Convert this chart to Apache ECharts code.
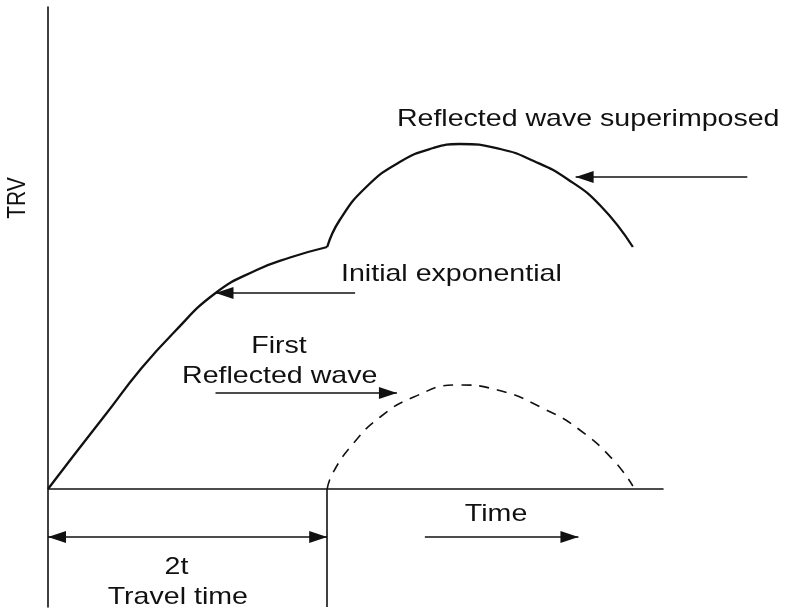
<!DOCTYPE html>
<html>
<head>
<meta charset="utf-8">
<script src="https://cdn.jsdelivr.net/npm/echarts@6/dist/echarts.min.js"></script>
<style>
  html, body { margin: 0; padding: 0; background: #fff; }
  #chart { width: 785px; height: 609px; }
</style>
</head>
<body>
<div id="chart"></div>
<script>
// time in units of t (2t = travel time), TRV in arbitrary units
const initialX = [0, 0.181, 0.421, 0.659, 0.898, 1.196, 1.495, 1.734, 2.0];
const initialY = [0, 0.33, 0.76, 1.19, 1.56, 1.955, 2.19, 2.315, 2.42];

const superX = [2.0, 2.09, 2.28, 2.52, 2.76, 2.95, 3.24, 3.48, 3.72, 3.96, 4.19];
const superY = [2.42, 2.69, 3.02, 3.27, 3.41, 3.45, 3.40, 3.28, 3.10, 2.83, 2.42];

const reflX = [2.0, 2.04, 2.19, 2.38, 2.62, 2.93, 3.22, 3.57, 3.81, 4.05, 4.19];
const reflY = [0, 0.16, 0.46, 0.72, 0.92, 1.04, 0.99, 0.79, 0.59, 0.29, 0.03];

// annotation lines, data coords: [from, to, arrow at from, arrow at to]
const guideLines = [
    [[0, 0], [4.41, 0], false, false],        // time axis
    [[2, 0], [2, -1.18], false, false],       // 2t marker
    [[0, -0.48], [2, -0.48], true, true],     // travel time span
    [[2.7, -0.48], [3.8, -0.48], false, true],// time arrow
    [[5.01, 3.12], [3.78, 3.12], false, true],// superimposed pointer
    [[2.2, 1.96], [1.2, 1.96], false, true],  // initial exp pointer
    [[1.2, 0.96], [2.5, 0.96], false, true]   // first reflected pointer
];

const labels = [
    ['Reflected wave superimposed', 3.87, 3.70],
    ['Initial exponential', 2.89, 2.145],
    ['First', 1.655, 1.43],
    ['Reflected wave', 1.66, 1.13],
    ['2t', 0.92, -0.78],
    ['Travel time', 0.93, -1.08],
    ['Time', 3.21, -0.25]
];

const zip = (xs, ys) => xs.map((x, i) => [x, ys[i]]);

const chart = echarts.init(document.getElementById('chart'));

const ink = '#111';

const option = {
    animation: false,
    backgroundColor: '#fff',
    grid: { left: 48, top: 7, width: 737, height: 600 },
    xAxis: {
        type: 'value', min: 0, max: 5.28,
        axisLine: { show: false }, axisTick: { show: false },
        axisLabel: { show: false }, splitLine: { show: false }
    },
    yAxis: {
        type: 'value', min: -1.18, max: 4.82,
        axisLine: { show: true, onZero: false, lineStyle: { color: ink, width: 1.6 } },
        axisTick: { show: false }, axisLabel: { show: false }, splitLine: { show: false }
    },
    series: [
        {
            name: 'Initial exponential', type: 'line', smooth: 0.5, showSymbol: false,
            data: zip(initialX, initialY),
            lineStyle: { color: ink, width: 2.3 },
            z: 3,
            markLine: {
                silent: true,
                symbolSize: [12, 18],
                symbolOffset: [[0, 9], [0, 9]],
                label: { show: false },
                lineStyle: { color: ink, width: 1.6, type: 'solid' },
                itemStyle: { color: ink },
                data: guideLines.map(g => [
                    { coord: g[0], symbol: g[2] ? 'triangle' : 'none' },
                    { coord: g[1], symbol: g[3] ? 'triangle' : 'none' }
                ])
            }
        },
        {
            name: 'Reflected wave superimposed', type: 'line', smooth: 0.5, showSymbol: false,
            data: zip(superX, superY),
            lineStyle: { color: ink, width: 2.3 },
            z: 3
        },
        {
            name: 'First reflected wave', type: 'line', smooth: 0.5, showSymbol: false,
            data: zip(reflX, reflY),
            lineStyle: { color: ink, width: 1.6, type: [10, 8] },
            z: 3
        }
    ]
};

chart.setOption(option);

const graphics = labels.map(l => {
    const p = chart.convertToPixel({ gridIndex: 0 }, [l[1], l[2]]);
    return {
        type: 'text', x: p[0], y: p[1], scaleX: 1.19,
        style: {
            text: l[0], fill: ink, font: '24px "Liberation Sans", Arial, sans-serif',
            textAlign: 'center', textVerticalAlign: 'middle'
        }
    };
});
const trvPos = chart.convertToPixel({ gridIndex: 0 }, [0, 2.91]);
graphics.push({
    type: 'text', x: 18.5, y: trvPos[1], rotation: Math.PI / 2, scaleY: 1.2,
    style: {
        text: 'TRV', fill: ink, font: '21px "Liberation Sans", Arial, sans-serif',
        textAlign: 'center', textVerticalAlign: 'middle'
    }
});
chart.setOption({ graphic: graphics });

window.addEventListener('resize', () => chart.resize());
</script>
</body>
</html>
